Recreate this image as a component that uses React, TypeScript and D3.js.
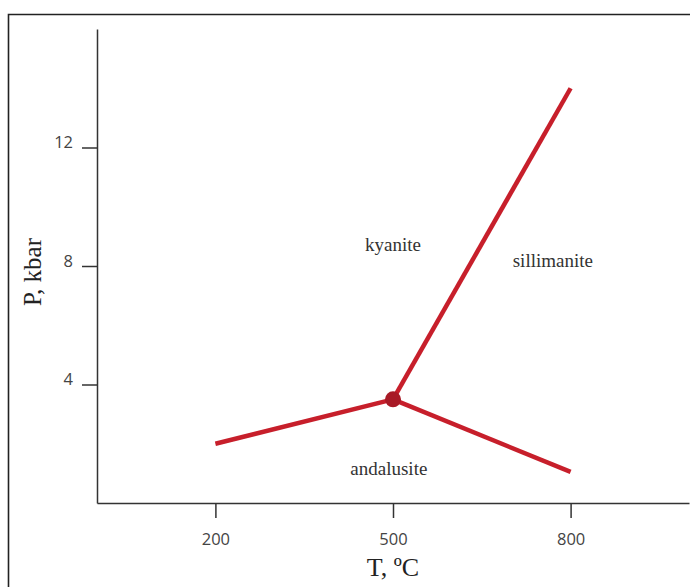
import React from "react";
import * as d3 from "d3";

// phase boundaries (T in °C, P in kbar)
const kyaniteSillimanite = [
  { t: 500, p: 3.5 },
  { t: 800, p: 14 },
];
const andalusiteKyanite = [
  { t: 200, p: 2.0 },
  { t: 500, p: 3.5 },
];
const andalusiteSillimanite = [
  { t: 500, p: 3.5 },
  { t: 800, p: 1.05 },
];
const triplePoint = { t: 500, p: 3.5 };

const xTicks = [200, 500, 800];
const yTicks = [4, 8, 12];

const fieldLabels = [
  { name: "kyanite", t: 500, p: 8.5 },
  { name: "sillimanite", t: 770, p: 7.95 },
  { name: "andalusite", t: 493, p: 0.95 },
];

export default function App() {
  const svgRef = React.useRef<SVGSVGElement>(null);
  const width = 690;
  const height = 587;

  React.useEffect(() => {
    const x = d3.scaleLinear().domain([0, 1000]).range([97, 689]);
    const y = d3.scaleLinear().domain([0, 16]).range([503, 29]);

    const svg = d3.select(svgRef.current);
    svg.selectAll("*").remove();

    svg.append("rect").attr("width", width).attr("height", height).attr("fill", "#fff");

    // outer frame (top + left only visible)
    svg.append("path")
      .attr("d", `M8.5,${height} V14.5 H${width}`)
      .attr("fill", "none")
      .attr("stroke", "#222")
      .attr("stroke-width", 1.6);

    // x axis
    const xAxis = d3.axisBottom(x).tickValues(xTicks).tickSize(15).tickPadding(15).tickSizeOuter(0);
    const gx = svg.append("g").attr("transform", `translate(0,${y(0)})`).call(xAxis);
    gx.select(".domain").attr("stroke", "#333").attr("stroke-width", 1.5);
    gx.selectAll("line").attr("stroke", "#333").attr("stroke-width", 1.5);
    gx.selectAll("text")
      .attr("font-family", "'Open Sans', sans-serif")
      .attr("font-size", 16.5)
      .attr("fill", "#444");

    // y axis
    const yAxis = d3.axisLeft(y).tickValues(yTicks).tickSize(15).tickPadding(9).tickSizeOuter(0);
    const gy = svg.append("g").attr("transform", `translate(${x(0)},0)`).call(yAxis);
    gy.select(".domain").attr("stroke", "#333").attr("stroke-width", 1.5);
    gy.selectAll("line").attr("stroke", "#333").attr("stroke-width", 1.5);
    gy.selectAll("text")
      .attr("font-family", "'Open Sans', sans-serif")
      .attr("font-size", 16.5)
      .attr("fill", "#444")
      .attr("dy", "0.02em");

    // boundaries
    const line = d3.line<{ t: number; p: number }>().x(d => x(d.t)).y(d => y(d.p));
    [kyaniteSillimanite, andalusiteKyanite, andalusiteSillimanite].forEach(seg => {
      svg.append("path")
        .attr("d", line(seg))
        .attr("fill", "none")
        .attr("stroke", "#c71f2b")
        .attr("stroke-width", 4.5)
        .attr("stroke-linecap", "butt");
    });

    svg.append("circle")
      .attr("cx", x(triplePoint.t))
      .attr("cy", y(triplePoint.p))
      .attr("r", 8)
      .attr("fill", "#a81a26");

    // field names
    svg.selectAll("text.field")
      .data(fieldLabels)
      .enter()
      .append("text")
      .attr("class", "field")
      .attr("x", d => x(d.t))
      .attr("y", d => y(d.p))
      .attr("text-anchor", "middle")
      .attr("font-family", "'Liberation Serif', serif")
      .attr("font-size", 19)
      .attr("fill", "#333")
      .text(d => d.name);

    // axis titles
    svg.append("text")
      .attr("x", 393)
      .attr("y", 576)
      .attr("text-anchor", "middle")
      .attr("font-family", "'Liberation Serif', serif")
      .attr("font-size", 26)
      .attr("fill", "#222")
      .text("T, ºC");

    svg.append("text")
      .attr("transform", "translate(41,272) rotate(-90)")
      .attr("text-anchor", "middle")
      .attr("font-family", "'Liberation Serif', serif")
      .attr("font-size", 25)
      .attr("fill", "#222")
      .text("P, kbar");
  }, []);

  return (
    <svg
      ref={svgRef}
      width={width}
      height={height}
      style={{ position: "absolute", left: 0, top: 0 }}
    />
  );
}
